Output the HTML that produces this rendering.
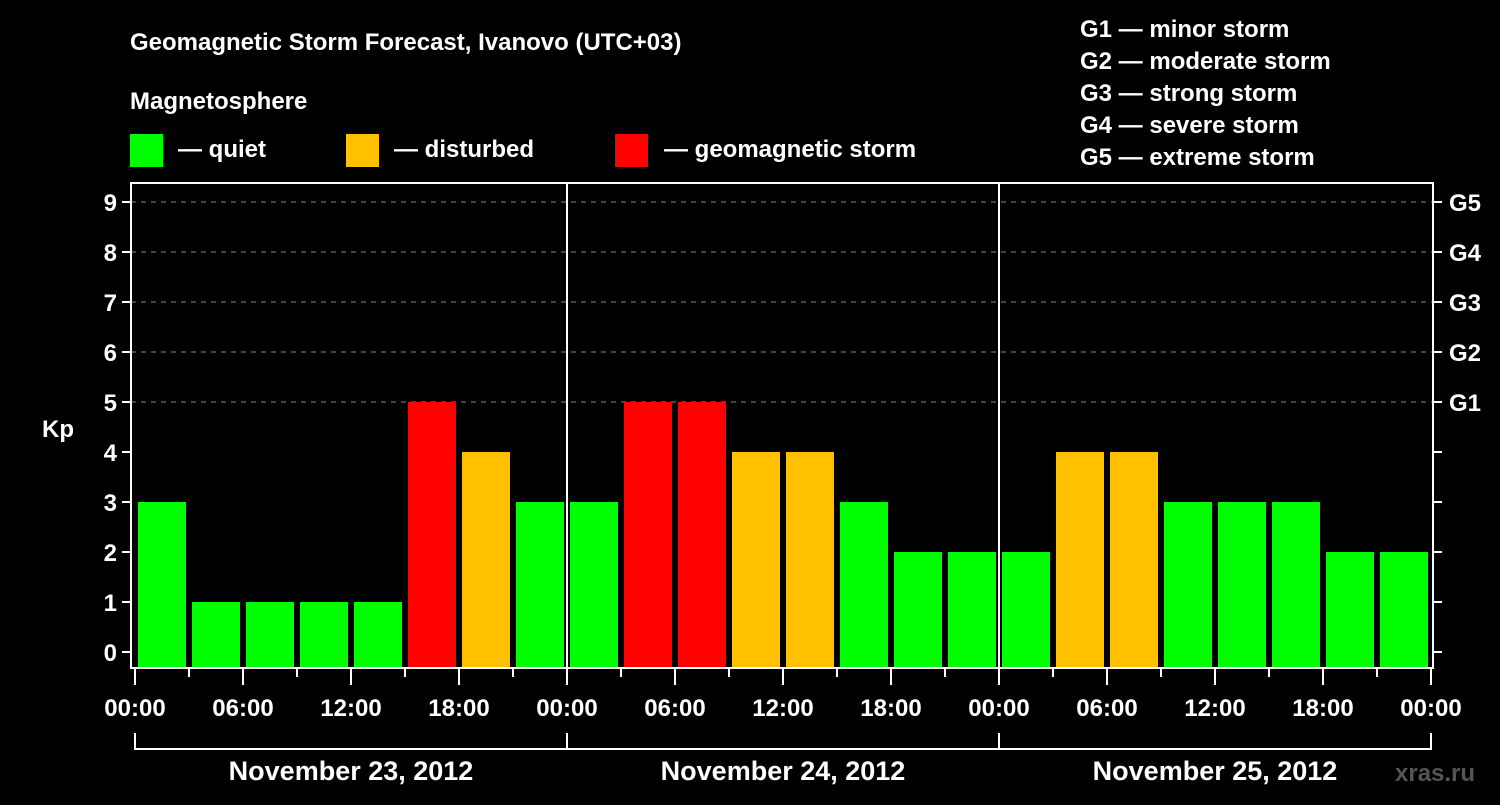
<!DOCTYPE html>
<html><head><meta charset="utf-8"><style>
body{margin:0;background:#000;width:1500px;height:800px;overflow:hidden}
svg text{font-family:"Liberation Sans",sans-serif;font-weight:bold;fill:#fff}
</style></head><body>
<svg id="c" width="1500" height="800">
<text x="130" y="50" font-size="24">Geomagnetic Storm Forecast, Ivanovo (UTC+03)</text>
<text x="130" y="109" font-size="24">Magnetosphere</text>
<rect x="130" y="134" width="33" height="33" fill="#00ff00"/>
<text x="178" y="157" font-size="24">— quiet</text>
<rect x="346" y="134" width="33" height="33" fill="#ffc000"/>
<text x="394" y="157" font-size="24">— disturbed</text>
<rect x="615" y="134" width="33" height="33" fill="#ff0000"/>
<text x="664" y="157" font-size="24">— geomagnetic storm</text>
<g font-size="24">
<text x="1080" y="37">G1 — minor storm</text>
<text x="1080" y="69">G2 — moderate storm</text>
<text x="1080" y="101">G3 — strong storm</text>
<text x="1080" y="133">G4 — severe storm</text>
<text x="1080" y="165">G5 — extreme storm</text>
</g>
<text x="42" y="437" font-size="24">Kp</text>
<text x="1395" y="781" font-size="24" fill="#555" style="fill:#555">xras.ru</text>
<g id="grid"></g><g id="bars"></g><g id="axes"></g>
</svg>
<script>
const kpValues=[3,1,1,1,1,5,4,3, 3,5,5,4,4,3,2,2, 2,4,4,3,3,3,2,2];
const yTicks=[0,1,2,3,4,5,6,7,8,9];
const gLabels=["G1","G2","G3","G4","G5"];
const xTickLabels=["00:00","06:00","12:00","18:00","00:00","06:00","12:00","18:00","00:00","06:00","12:00","18:00","00:00"];
const dayLabels=["November 23, 2012","November 24, 2012","November 25, 2012"];
const NS="http://www.w3.org/2000/svg";
const L=131,R=1433,T=183,B=668,X0=135,SLOT=54;
const y=v=>652-50*v;
const x=i=>X0+SLOT*i;
function mk(p,tag,a){const e=document.createElementNS(NS,tag);for(const k in a)e.setAttribute(k,a[k]);document.getElementById(p).appendChild(e);return e;}
const col=v=>v>=5?"#ff0000":v>=4?"#ffc000":"#00ff00";
yTicks.forEach(v=>{
 if(v>=5){const g=mk("grid","line",{x1:L,x2:R,y1:y(v),y2:y(v),stroke:"#888","stroke-width":1,"stroke-dasharray":"5,5"});
 
 }
 const t=mk("axes","line",{x1:122,x2:L,y1:y(v),y2:y(v),stroke:"#fff","stroke-width":2});
 
 
 const t2=mk("axes","line",{x1:R,x2:R+9,y1:y(v),y2:y(v),stroke:"#fff","stroke-width":2});
 
 
 const tx=mk("axes","text",{x:117,y:y(v)+9,"text-anchor":"end","font-size":24});tx.textContent=v;
 
 
});
gLabels.forEach((g,i)=>{const tx=mk("axes","text",{x:1449,y:y(5+i)+9,"font-size":24});tx.textContent=g;
 
 });
kpValues.forEach((v,i)=>{const r=mk("bars","rect",{x:x(i)+3,y:y(v),width:48,height:B-1-y(v),fill:col(v)});
 
 });
[1,2].forEach(d=>{const l=mk("axes","line",{x1:x(8*d),x2:x(8*d),y1:T,y2:B,stroke:"#fff","stroke-width":2});
 
 });
const fr=mk("axes","rect",{x:L,y:T,width:R-L,height:B-T,fill:"none",stroke:"#fff","stroke-width":2});


for(let i=0;i<=24;i++){const major=i%2==0;
 const l=mk("axes","line",{x1:x(i),x2:x(i),y1:B,y2:major?685:677,stroke:"#fff","stroke-width":2});
 
 }
xTickLabels.forEach((s,i)=>{const t=mk("axes","text",{x:x(i*2),y:716,"text-anchor":"middle","font-size":24});t.textContent=s;
 
 });
dayLabels.forEach((s,d)=>{
 const p=mk("axes","path",{d:`M${x(8*d)},733V749H${x(8*d+8)}V733`,fill:"none",stroke:"#fff","stroke-width":2});
 
 
 const t=mk("axes","text",{x:x(8*d+4),y:780,"text-anchor":"middle","font-size":27});t.textContent=s;
 
 });
</script>
</body></html>
